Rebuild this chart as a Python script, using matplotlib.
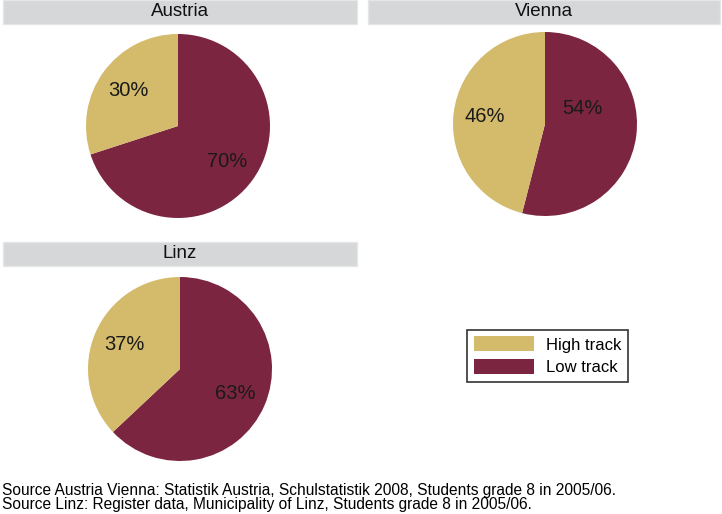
import matplotlib.pyplot as plt
from matplotlib.patches import Rectangle, Patch

plt.rcParams['font.family'] = ['Liberation Sans', 'DejaVu Sans']

regions = ['Austria', 'Vienna', 'Linz']
low_track = [70, 54, 63]
high_track = [30, 46, 37]
track_names = ['High track', 'Low track']
sources = [
    'Source Austria Vienna: Statistik Austria, Schulstatistik 2008, Students grade 8 in 2005/06.',
    'Source Linz: Register data, Municipality of Linz, Students grade 8 in 2005/06.',
]

LOW_COLOR = '#7B2541'
HIGH_COLOR = '#D4BA6B'
HEAD_COLOR = '#D5D7D9'

W, H = 722, 514
fig = plt.figure(figsize=(W / 100, H / 100), dpi=100)


def px_box(x0, y0, x1, y1):
    # pixel box (top-left origin) -> figure fraction [left, bottom, width, height]
    return [x0 / W, 1 - y1 / H, (x1 - x0) / W, (y1 - y0) / H]


# panel header bars (x0, y0, x1, y1 in pixels)
headers = [(3, 0, 357, 24), (368, 0, 720, 24), (3, 242, 357, 266)]
# pie centres and radius in pixels
centres = [(178, 126), (545, 124), (180, 369)]
radius = 92

for i, name in enumerate(regions):
    x0, y0, x1, y1 = headers[i]
    l, b, w, h = px_box(x0, y0, x1, y1)
    fig.add_artist(Rectangle((l, b), w, h, transform=fig.transFigure,
                             facecolor=HEAD_COLOR, edgecolor='#E4E6E8', lw=1))
    fig.text(l + w / 2, b + h / 2, name, ha='center', va='center',
             fontsize=13.5, color='#111111')

    cx, cy = centres[i]
    ax = fig.add_axes(px_box(cx - radius, cy - radius, cx + radius, cy + radius))
    wedges, texts, autotexts = ax.pie(
        [low_track[i], high_track[i]], colors=[LOW_COLOR, HIGH_COLOR],
        startangle=90, counterclock=False, radius=1,
        autopct='%d%%', pctdistance=0.66,
        textprops=dict(fontsize=14.5, color='#1a1a1a'))
    ax.set_xlim(-1, 1)
    ax.set_ylim(-1, 1)
    ax.set_aspect('equal')
    ax.axis('off')
    if name == 'Vienna':
        autotexts[0].set_position((0.41, 0.17))

handles = [Patch(facecolor=HIGH_COLOR, edgecolor='none'),
           Patch(facecolor=LOW_COLOR, edgecolor='none')]
lb = px_box(463, 328, 632, 384)
leg = fig.legend(handles, track_names, loc='center',
                 bbox_to_anchor=(lb[0] + lb[2] / 2, lb[1] + lb[3] / 2),
                 bbox_transform=fig.transFigure, fontsize=12,
                 handlelength=3.6, handleheight=1.0, handletextpad=0.75,
                 labelspacing=0.4, borderpad=0.4, fancybox=False,
                 framealpha=1, edgecolor='#333333')
leg.get_frame().set_linewidth(1.2)

fig.text(2 / W, 1 - 490 / H, sources[0], ha='left', va='center', fontsize=11.2)
fig.text(2 / W, 1 - 505 / H, sources[1], ha='left', va='center', fontsize=11.2)

fig.savefig('out.png', dpi=100, facecolor='white')
